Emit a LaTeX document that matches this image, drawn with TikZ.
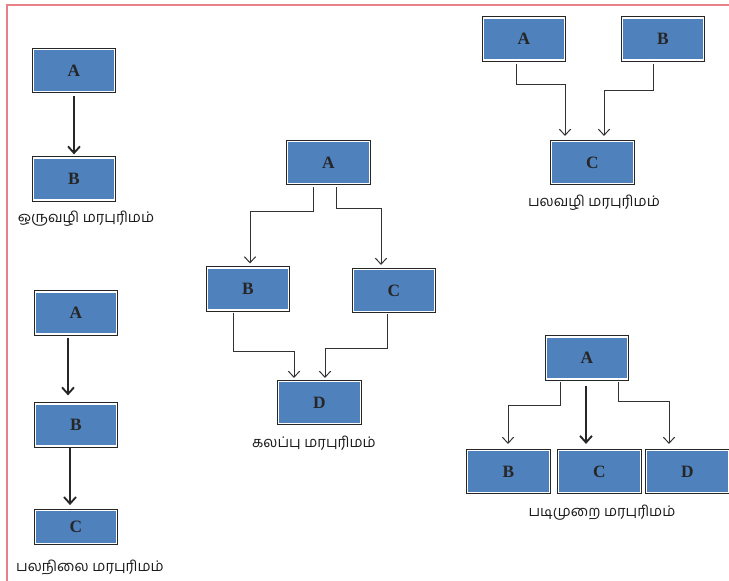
\documentclass[tikz,border=0pt]{standalone}
\usepackage{fontspec}
\setmainfont{Liberation Serif}
\newfontfamily\tamilfont[Script=Tamil]{Hind Madurai}
\usetikzlibrary{arrows.meta,calc}
\definecolor{boxBlue}{RGB}{79,129,189}
\definecolor{frameRed}{RGB}{232,128,136}
\definecolor{lineGrey}{RGB}{50,50,50}
\begin{document}
\begin{tikzpicture}[x=0.75pt, y=-0.75pt,
        boxStyle/.style={rectangle, fill=boxBlue, draw=white, line width=0.9pt,
            preaction={draw=black!85, line width=2.5pt},
            minimum width=61pt, minimum height=31.5pt, inner sep=0pt,
            font=\fontsize{13}{15}\selectfont\bfseries, text=black!85},
        labelStyle/.style={font=\tamilfont\fontsize{11}{13}\selectfont, text=black!90},
        thinArrow/.style={lineGrey, line width=0.75pt, -{Straight Barb[length=4.5pt, width=8.5pt]}},
        thickArrow/.style={black!85, line width=1.4pt, -{Straight Barb[length=5pt, width=9pt]}}]
    \useasboundingbox (0,0) rectangle (729,581);
    \draw[frameRed, line width=1.5pt] (6.5,581) -- (6.5,5.5) -- (729,5.5);

    \node[boxStyle] (a1) at (74,70.5) {A};
    \node[boxStyle] (b1) at (74,179) {B};
    \node[labelStyle] (l1) at (86,219) {ஒருவழி மரபுரிமம்};

    \node[boxStyle] (a2) at (76,313) {A};
    \node[boxStyle] (b2) at (76,425) {B};
    \node[boxStyle, minimum height=24.5pt] (c2) at (76,527) {C};
    \node[labelStyle] (l2) at (90,567) {பலநிலை மரபுரிமம்};

    \node[boxStyle] (a3) at (328.5,162.5) {A};
    \node[boxStyle] (b3) at (248,289) {B};
    \node[boxStyle] (c3) at (394,290.5) {C};
    \node[boxStyle] (d3) at (319.5,402.5) {D};
    \node[labelStyle] (l3) at (314,443) {கலப்பு மரபுரிமம்};

    \node[boxStyle] (a4) at (524,39) {A};
    \node[boxStyle] (b4) at (663,39) {B};
    \node[boxStyle] (c4) at (592.5,162.5) {C};
    \node[labelStyle] (l4) at (594,203) {பலவழி மரபுரிமம்};

    \node[boxStyle] (a5) at (587,358) {A};
    \node[boxStyle] (b5) at (508.5,471.5) {B};
    \node[boxStyle] (c5) at (599.5,471.5) {C};
    \node[boxStyle] (d5) at (687.5,471.5) {D};
    \node[labelStyle] (l5) at (602,513) {படிமுறை மரபுரிமம்};

    \draw[thickArrow] ($(a1.south)+(0,4)$) -- ($(b1.north)+(0,-3)$);

    \draw[thickArrow] ($(a2.south)+(-8,3)$) -- ($(b2.north)+(-8,-8)$);
    \draw[thickArrow] ($(b2.south)+(-6,1)$) -- ($(c2.north)+(-6,-5)$);

    \draw[thinArrow] ($(a3.south)+(-15.5,3)$) -- ++(0,24) -| ($(b3.north)+(2,-4)$);
    \draw[thinArrow] ($(a3.south)+(7.5,3)$) -- ++(0,21) -| ($(c3.north)+(-13,-4)$);
    \draw[thinArrow] ($(b3.south)+(-15,2)$) -- ++(0,39) -| ($(d3.north)+(-25.5,-3)$);
    \draw[thinArrow] ($(c3.south)+(-7,2)$) -- ++(0,34) -| ($(d3.north)+(5.5,-3)$);

    \draw[thinArrow] ($(a4.south)+(-8,3)$) -- ++(0,21) -| ($(c4.north)+(-27.5,-5)$);
    \draw[thinArrow] ($(b4.south)+(-10,3)$) -- ++(0,27) -| ($(c4.north)+(11.5,-5)$);

    \draw[thinArrow] ($(a5.south)+(-27,2)$) -- ++(0,24) -| ($(b5.north)+(-0.5,-6)$);
    \draw[thickArrow] ($(a5.south)+(-1,6)$) -- ($(c5.north)+(-13.5,-6)$);
    \draw[thinArrow] ($(a5.south)+(31,2)$) -- ++(0,20) -| ($(d5.north)+(-18.5,-6)$);
\end{tikzpicture}
\end{document}
